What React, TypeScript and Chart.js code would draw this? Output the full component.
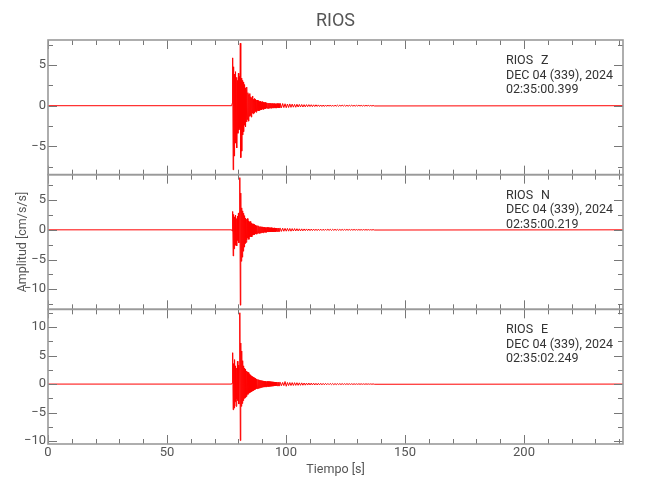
import React, { useEffect, useRef } from "react";
import { Chart, registerables } from "chart.js";

Chart.register(...registerables);

// ---- labels ----
const STATION = "RIOS";
const DATE_LABEL = "DEC 04 (339), 2024";
const CHANNELS = ["Z", "N", "E"];
const START_TIMES = ["02:35:00.399", "02:35:00.219", "02:35:02.249"];
const X_TITLE = "Tiempo [s]";
const Y_TITLE = "Amplitud [cm/s/s]";

// ---- axes ----
const X_MAX = 241.6;
const X_MAJOR = 50;
const X_MINOR = 10;
const Y_MAJOR = 5;
const Y_MINOR = 2.5;
const Y_MIN = [-8.5, -13.4, -10.5];
const Y_MAX = [8.1, 9.3, 13.1];

// ---- sampling of the traces ----
const PRE_EVENT_END = 77.2;
const BURST_START = 77.4;
const BURST_STEP = 0.2;
const TAIL_START = 97.6;
const TAIL_STEP = 0.5;

// ---- Z component (cm/s/s) ----
const burstZ = [
  0.3, 5.9, -7.9, 4.8, -6.2, 3.9, -4.6, 4.2, -3.8, 3.5,
  -5.2, 3.1, -3.4, 4.0, -3.0, 3.6, -2.8, 7.7, -6.4, 3.4,
  -5.6, 3.1, -3.6, 2.9, -3.2, 2.6, -2.4, 2.2, -2.6, 1.9,
  -2.0, 2.3, -1.7, 1.6, -1.9, 1.4, -1.3, 1.5, -1.2, 1.1,
  -1.4, 1.0, -0.9, 1.2, -1.0, 0.8, -0.9, 0.9, -0.7, 0.8,
  -0.8, 0.7, -0.65, 0.7, -0.6, 0.6, -0.65, 0.5, -0.55, 0.55,
  -0.5, 0.45, -0.5, 0.5, -0.4, 0.42, -0.45, 0.38, -0.36, 0.4,
  -0.35, 0.36, -0.33, 0.35, -0.32, 0.33, -0.34, 0.3, -0.3, 0.32,
  -0.29, 0.3, -0.31, 0.28, -0.27, 0.29, -0.28, 0.27, -0.26, 0.28,
  -0.27, 0.25, -0.26, 0.27, -0.25, 0.26, -0.24, 0.25, -0.26, 0.24, -0.25,
];
const tailZ = [
  0.28, -0.25, 0.27, -0.23, 0.24, -0.25, 0.21, -0.22, 0.22, -0.2,
  0.2, -0.18, 0.17, -0.19, 0.18, -0.16, 0.16, -0.15, 0.15, -0.16,
  0.13, -0.14, 0.13, -0.12, 0.13, -0.11, 0.12, -0.12, 0.11, -0.1,
  0.11, -0.09, 0.1, -0.09, 0.09, -0.1, 0.08, -0.09, 0.09, -0.08,
  0.08, -0.07, 0.09, -0.08, 0.07, -0.08, 0.07, -0.06, 0.07, -0.07,
  0.06, -0.06, 0.07, -0.05, 0.06, -0.06, 0.05, -0.06, 0.05, -0.05,
  0.06, -0.05, 0.04, -0.05, 0.05, -0.04, 0.05, -0.04, 0.04, -0.05,
  0.04, -0.04, 0.04, -0.03, 0.04, -0.04, 0.03, -0.04, 0.03, -0.03,
];

// ---- N component (cm/s/s) ----
const burstN = [
  -0.2, 3.1, -4.4, 2.6, -3.2, 2.2, -2.6, 2.5, -2.0, 1.9,
  -2.7, 2.3, -1.8, 2.8, -2.2, 3.0, 8.8, -12.7, 6.2, -5.3,
  3.7, -4.6, 3.2, -3.6, 2.8, -2.9, 2.4, -2.3, 2.0, -2.1,
  1.8, -1.7, 1.9, -1.4, 1.5, -1.6, 1.3, -1.2, 1.4, -1.1,
  1.1, -1.2, 1.0, -0.9, 1.0, -0.8, 0.9, -0.8, 0.8, -0.7,
  0.7, -0.75, 0.65, -0.6, 0.7, -0.55, 0.6, -0.6, 0.5, -0.55,
  0.55, -0.5, 0.5, -0.45, 0.5, -0.5, 0.45, -0.4, 0.45, -0.42,
  0.4, -0.4, 0.42, -0.38, 0.4, -0.36, 0.38, -0.37, 0.35, -0.36,
  0.34, -0.35, 0.36, -0.32, 0.33, -0.34, 0.31, -0.32, 0.33, -0.3,
  0.31, -0.3, 0.29, -0.31, 0.3, -0.28, 0.29, -0.27, 0.28, -0.27, 0.26,
];
const tailN = [
  0.27, -0.26, 0.28, -0.24, 0.25, -0.23, 0.24, -0.22, 0.23, -0.23,
  0.21, -0.2, 0.21, -0.19, 0.19, -0.18, 0.17, -0.18, 0.16, -0.17,
  0.15, -0.14, 0.15, -0.13, 0.14, -0.14, 0.13, -0.12, 0.13, -0.12,
  0.11, -0.12, 0.12, -0.1, 0.11, -0.11, 0.1, -0.1, 0.11, -0.09,
  0.1, -0.09, 0.09, -0.1, 0.09, -0.08, 0.09, -0.08, 0.08, -0.08,
  0.07, -0.08, 0.07, -0.07, 0.07, -0.06, 0.07, -0.06, 0.06, -0.06,
  0.06, -0.05, 0.06, -0.05, 0.05, -0.05, 0.05, -0.05, 0.04, -0.05,
  0.05, -0.04, 0.04, -0.04, 0.04, -0.04, 0.03, -0.04, 0.04, -0.03,
];

// ---- E component (cm/s/s) ----
const burstE = [
  0.2, 5.5, -4.5, 3.6, -4.2, 4.3, -3.1, 3.2, -3.9, 2.8,
  -2.6, 4.0, -2.9, 3.3, -3.5, 2.9, 12.5, -9.9, 7.2, -3.9,
  5.8, -3.4, 4.1, -2.9, 3.2, -2.5, 2.8, -2.4, 2.6, -2.2,
  2.3, -2.0, 2.1, -1.8, 2.0, -1.6, 1.7, -1.5, 1.6, -1.4,
  1.4, -1.3, 1.3, -1.2, 1.2, -1.1, 1.1, -1.0, 1.0, -0.9,
  0.9, -0.85, 0.85, -0.8, 0.8, -0.75, 0.75, -0.7, 0.7, -0.65,
  0.65, -0.6, 0.62, -0.55, 0.58, -0.52, 0.55, -0.5, 0.52, -0.48,
  0.5, -0.46, 0.48, -0.45, 0.46, -0.44, 0.45, -0.42, 0.44, -0.4,
  0.42, -0.38, 0.4, -0.37, 0.39, -0.36, 0.38, -0.35, 0.37, -0.34,
  0.36, -0.33, 0.35, -0.32, 0.34, -0.31, 0.33, -0.3, 0.32, -0.3, 0.31,
];
const tailE = [
  0.3, -0.28, 0.29, -0.27, 0.45, -0.38, 0.28, -0.26, 0.27, -0.25,
  0.26, -0.24, 0.25, -0.23, 0.24, -0.22, 0.22, -0.21, 0.21, -0.2,
  0.19, -0.19, 0.18, -0.17, 0.18, -0.16, 0.17, -0.15, 0.16, -0.15,
  0.14, -0.15, 0.14, -0.13, 0.13, -0.13, 0.12, -0.12, 0.12, -0.11,
  0.11, -0.1, 0.11, -0.1, 0.1, -0.1, 0.09, -0.09, 0.09, -0.08,
  0.08, -0.08, 0.08, -0.07, 0.07, -0.07, 0.07, -0.06, 0.06, -0.06,
  0.06, -0.06, 0.05, -0.05, 0.05, -0.05, 0.05, -0.04, 0.04, -0.04,
  0.04, -0.04, 0.04, -0.03, 0.03, -0.03, 0.03, -0.03, 0.03, -0.03,
];

const BURSTS = [burstZ, burstN, burstE];
const TAILS = [tailZ, tailN, tailE];
const PANEL_IDS = ["yZ", "yN", "yE"];

const FONT = 'Roboto, "DejaVu Sans Condensed", sans-serif';
const TRACE_COLOR = "#ff0000";
const AXIS_COLOR = "#9a9a9a";
const TICK_COLOR = "#777777";
const TEXT_COLOR = "#555555";
const LABEL_COLOR = "#333333";

function buildTrace(k: number) {
  const pts: { x: number; y: number }[] = [{ x: 0, y: 0 }, { x: PRE_EVENT_END, y: 0 }];
  BURSTS[k].forEach((v, i) => pts.push({ x: BURST_START + i * BURST_STEP, y: v }));
  TAILS[k].forEach((v, i) => pts.push({ x: TAIL_START + i * TAIL_STEP, y: v }));
  pts.push({ x: X_MAX, y: 0 });
  return pts;
}

const idlFrame = {
  id: "idlFrame",
  afterDraw(chart: any) {
    const ctx: CanvasRenderingContext2D = chart.ctx;
    const xs = chart.scales.x;
    const { left, right } = chart.chartArea;
    const seg = (x1: number, y1: number, x2: number, y2: number) => {
      ctx.beginPath();
      ctx.moveTo(x1, y1);
      ctx.lineTo(x2, y2);
      ctx.stroke();
    };
    ctx.save();
    PANEL_IDS.forEach((id, k) => {
      const ys = chart.scales[id];
      const top = ys.top;
      const bottom = ys.bottom;
      // ticks
      ctx.strokeStyle = TICK_COLOR;
      ctx.lineWidth = 1;
      for (let j = 0; j * X_MINOR <= X_MAX; j++) {
        const v = j * X_MINOR;
        const px = Math.round(xs.getPixelForValue(v)) + 0.5;
        const len = v % X_MAJOR === 0 ? 9 : 5;
        seg(px, top, px, top + len);
        seg(px, bottom, px, bottom - len);
      }
      const first = Math.ceil(ys.min / Y_MINOR);
      for (let j = first; j * Y_MINOR <= ys.max; j++) {
        const v = j * Y_MINOR;
        const py = Math.round(ys.getPixelForValue(v)) + 0.5;
        const len = v % Y_MAJOR === 0 ? 9 : 5;
        seg(left, py, left + len, py);
        seg(right, py, right - len, py);
      }
      // frame
      ctx.strokeStyle = AXIS_COLOR;
      ctx.lineWidth = 1.6;
      ctx.strokeRect(left, top, right - left, bottom - top);
      // y tick labels
      ctx.fillStyle = TEXT_COLOR;
      ctx.font = `13px ${FONT}`;
      ctx.textAlign = "right";
      ctx.textBaseline = "middle";
      const firstMajor = Math.ceil(ys.min / Y_MAJOR);
      for (let j = firstMajor; j * Y_MAJOR <= ys.max; j++) {
        const v = j * Y_MAJOR;
        const label = v < 0 ? "\u2212" + Math.abs(v) : String(v);
        ctx.fillText(label, left - 2, ys.getPixelForValue(v));
      }
      // channel annotation
      ctx.fillStyle = LABEL_COLOR;
      ctx.font = `12.5px ${FONT}`;
      ctx.textAlign = "left";
      const tx = xs.getPixelForValue(X_MAX) - 117;
      ctx.fillText(STATION, tx, top + 21);
      ctx.fillText(CHANNELS[k], tx + 35, top + 21);
      ctx.fillText(DATE_LABEL, tx, top + 35.5);
      ctx.fillText(START_TIMES[k], tx, top + 50);
    });
    // x tick labels
    const bottomPanel = chart.scales[PANEL_IDS[PANEL_IDS.length - 1]];
    ctx.fillStyle = TEXT_COLOR;
    ctx.font = `13px ${FONT}`;
    ctx.textAlign = "center";
    ctx.textBaseline = "middle";
    for (let j = 0; j * X_MAJOR <= X_MAX; j++) {
      const v = j * X_MAJOR;
      ctx.fillText(String(v), xs.getPixelForValue(v), bottomPanel.bottom + 9);
    }
    const cx = (left + right) / 2;
    ctx.font = `12.5px ${FONT}`;
    ctx.fillText(X_TITLE, cx, bottomPanel.bottom + 26);
    // title
    const topPanel = chart.scales[PANEL_IDS[0]];
    ctx.font = `18px ${FONT}`;
    ctx.fillText(STATION, cx, topPanel.top - 19);
    // y title
    ctx.save();
    ctx.font = `12.5px ${FONT}`;
    ctx.translate(left - 25, (topPanel.top + bottomPanel.bottom) / 2);
    ctx.rotate(-Math.PI / 2);
    ctx.fillText(Y_TITLE, 0, 0);
    ctx.restore();
    ctx.restore();
  },
};

export default function App() {
  const canvasRef = useRef<HTMLCanvasElement | null>(null);

  useEffect(() => {
    document.body.style.margin = "0";
    const canvas = canvasRef.current;
    if (!canvas) return;
    const yScale = (k: number) => ({
      type: "linear" as const,
      display: false,
      position: "left" as const,
      stack: "panels",
      stackWeight: 1,
      min: Y_MIN[k],
      max: Y_MAX[k],
    });
    const chart = new Chart(canvas, {
      type: "line",
      data: {
        datasets: PANEL_IDS.map((id, k) => ({
          label: `${STATION} ${CHANNELS[k]}`,
          data: buildTrace(k),
          yAxisID: id,
          borderColor: TRACE_COLOR,
          borderWidth: 1,
          pointRadius: 0,
          tension: 0,
          fill: false,
        })),
      },
      options: {
        animation: false,
        responsive: false,
        events: [],
        layout: { padding: { left: 48, right: 27, top: 40, bottom: 56 } },
        plugins: {
          legend: { display: false },
          tooltip: { enabled: false },
          title: { display: false },
        },
        scales: {
          x: { type: "linear", display: false, min: 0, max: X_MAX },
          // declared bottom-first: stacked left scales are placed last-declared on top
          yE: yScale(2),
          yN: yScale(1),
          yZ: yScale(0),
        },
      },
      plugins: [idlFrame],
    });
    return () => chart.destroy();
  }, []);

  return (
    <div style={{ width: 650, height: 500, background: "#ffffff" }}>
      <canvas ref={canvasRef} width={650} height={500} style={{ display: "block" }} />
    </div>
  );
}
